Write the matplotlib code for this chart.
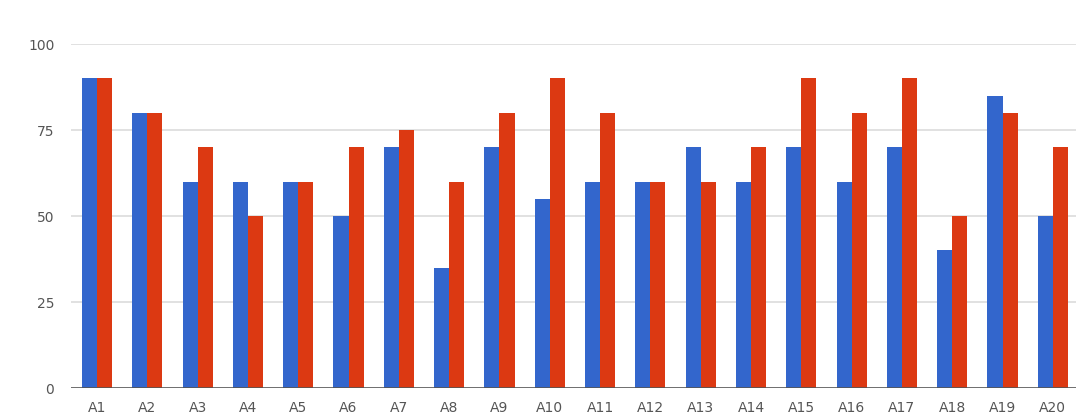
import numpy as np
import matplotlib
matplotlib.use("Agg")
import matplotlib.pyplot as plt

categories = [f"A{i}" for i in range(1, 21)]
series_blue = [90, 80, 60, 60, 60, 50, 70, 35, 70, 55, 60, 60, 70, 60, 70, 60, 70, 40, 85, 50]
series_red = [90, 80, 70, 50, 60, 70, 75, 60, 80, 90, 80, 60, 60, 70, 90, 80, 90, 50, 80, 70]
y_ticks = [0, 25, 50, 75, 100]

W, H = 1076, 413
fig = plt.figure(figsize=(W / 100, H / 100), dpi=100)
ax = fig.add_axes([71 / W, 25 / H, 1 - 71 / W, (388 - 44) / H])

x = np.arange(len(categories))
bw = 0.3
ax.bar(x - bw / 2, series_blue, width=bw, color="#3366cc", zorder=3)
ax.bar(x + bw / 2, series_red, width=bw, color="#dc3912", zorder=3)

ax.set_xlim(-0.517, 19.46)
ax.set_ylim(0, 100)
ax.set_yticks(y_ticks)
ax.set_yticklabels([str(v) for v in y_ticks])
ax.set_xticks(x)
ax.set_xticklabels(categories)

for v in y_ticks[1:]:
    ax.axhline(v, color="#dcdcdc", lw=1.2, zorder=1)
ax.axhline(0, color="#555555", lw=1.2, zorder=4)

for s in ax.spines.values():
    s.set_visible(False)
ax.tick_params(axis="both", length=0, labelsize=10, labelcolor="#555555")
ax.tick_params(axis="y", pad=12)
ax.tick_params(axis="x", pad=9)

fig.savefig("out.png", dpi=100)
